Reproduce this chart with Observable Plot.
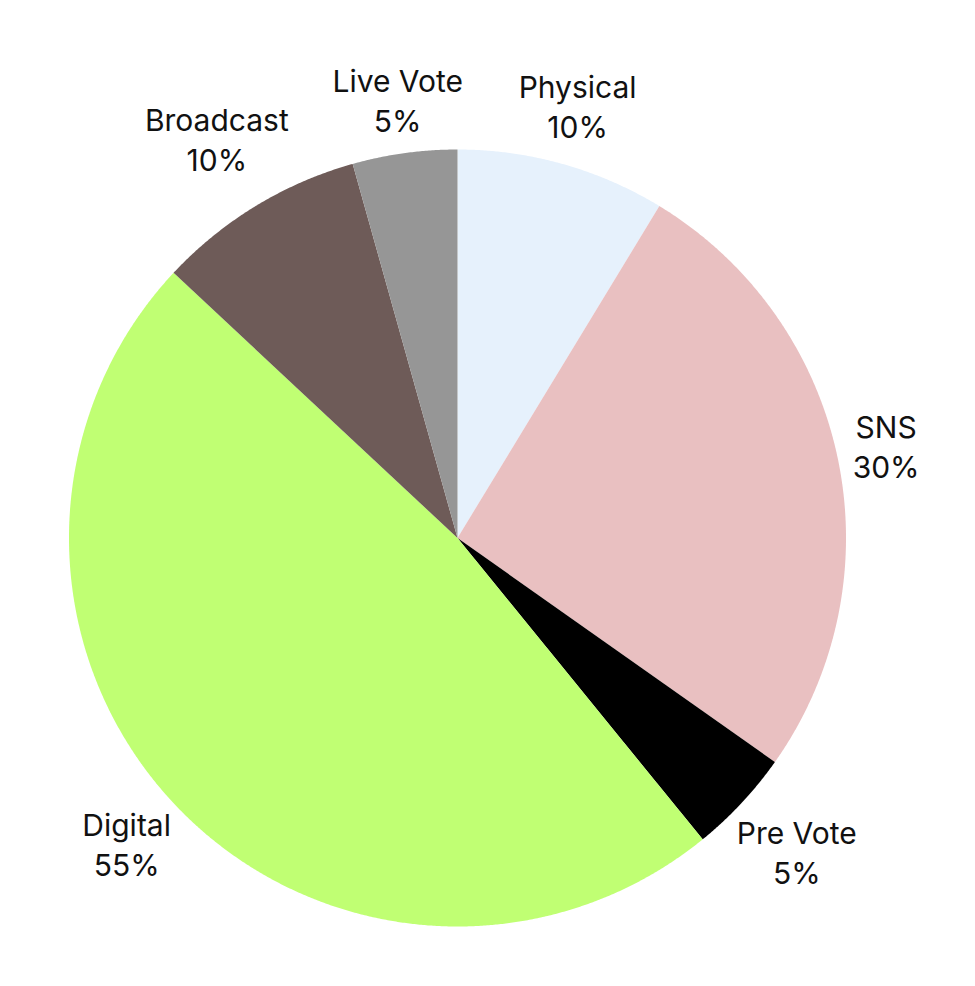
<!DOCTYPE html>
<html>
<head>
<meta charset="utf-8">
<script src="https://cdn.jsdelivr.net/npm/d3@7"></script>
<script src="https://cdn.jsdelivr.net/npm/@observablehq/plot@0.6"></script>
<style>
  html, body { margin: 0; padding: 0; background: #fff; }
  #chart svg { display: block; }
</style>
</head>
<body>
<div id="chart"></div>
<script>
// Data (clockwise from 12 o'clock)
const categories = ["Physical", "SNS", "Pre Vote", "Digital", "Broadcast", "Live Vote"];
const values = [10, 30, 5, 55, 10, 5];
const labels = ["10%", "30%", "5%", "55%", "10%", "5%"];
const colors = ["#e6f1fc", "#e9c0c1", "#000000", "#c0ff73", "#6e5b58", "#969696"];

const W = 975, H = 986;
const cx = 457, cy = 537.5, R = 388.5;
const fontSize = 30, lineHeight = 1.34;

const pie = d3.pie().sort(null).value(d => d)(values);

// slice polygons in unit-circle data space (y up)
const slicePts = [];
pie.forEach((p, i) => {
  const name = categories[i];
  slicePts.push({name, x: 0, y: 0});
  const n = Math.max(2, Math.ceil((p.endAngle - p.startAngle) / (Math.PI / 720)));
  for (let k = 0; k <= n; k++) {
    const a = p.startAngle + (p.endAngle - p.startAngle) * k / n;
    slicePts.push({name, x: Math.sin(a), y: Math.cos(a)});
  }
  slicePts.push({name, x: 0, y: 0});
});

// label positions: box edge sits a fixed offset outside the arc
const ctx = document.createElement("canvas").getContext("2d");
ctx.font = `${fontSize}px Inter`;
const offset = 10;
const labelData = pie.map((p, i) => {
  const a = (p.startAngle + p.endAngle) / 2;
  const w = Math.max(ctx.measureText(categories[i]).width, ctx.measureText(labels[i]).width);
  const hw = w / 2, hh = 32;
  const proj = Math.abs(Math.sin(a)) * hw + Math.abs(Math.cos(a)) * hh;
  const dist = (R + offset + proj) / R;
  return {name: categories[i], x: Math.sin(a) * dist, y: Math.cos(a) * dist, text: categories[i] + "\n" + labels[i]};
});

const chart = Plot.plot({
  width: W,
  height: H,
  margin: 0,
  style: {fontFamily: "Inter, sans-serif", background: "#fff"},
  x: {domain: [-1, 1], range: [cx - R, cx + R], axis: null},
  y: {domain: [-1, 1], range: [cy + R, cy - R], axis: null},
  color: {domain: categories, range: colors},
  marks: [
    Plot.line(slicePts, {x: "x", y: "y", z: "name", fill: "name", stroke: "none", curve: "linear"}),
    Plot.text(labelData, {x: "x", y: "y", dy: -4, text: "text", fontSize, lineHeight, fill: "#111", textAnchor: "middle", fontFamily: "Inter"})
  ]
});
document.getElementById("chart").appendChild(chart);
</script>
</body>
</html>
